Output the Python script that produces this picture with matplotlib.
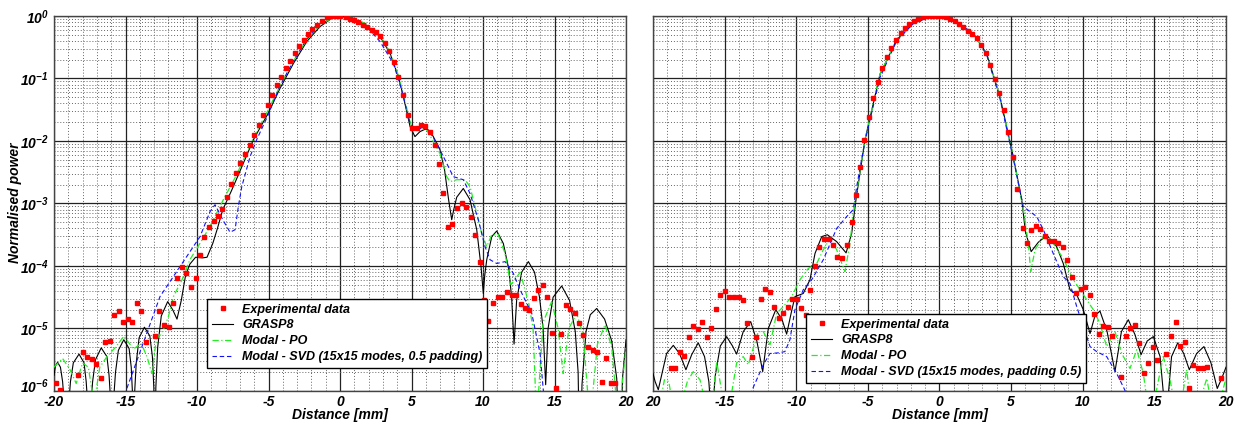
import numpy as np
import matplotlib
matplotlib.use('Agg')
import matplotlib.pyplot as plt
from matplotlib.ticker import LogLocator, NullFormatter
from matplotlib.transforms import ScaledTranslation

plt.rcParams['font.family'] = ['Liberation Sans', 'DejaVu Sans']
plt.rcParams['font.weight'] = 'bold'
plt.rcParams['font.style'] = 'italic'
plt.rcParams['mathtext.fontset'] = 'custom'
plt.rcParams['mathtext.rm'] = 'Liberation Sans:bold:italic'
plt.rcParams['mathtext.it'] = 'Liberation Sans:bold:italic'
plt.rcParams['mathtext.bf'] = 'Liberation Sans:bold:italic'

# values: [distance mm, log10(normalised power)]
left_exp = np.array([
    [-19.88, -5.87], [-19.58, -5.98], [-18.32, -5.75], [-18.00, -5.38], [-17.69, -5.46],
    [-17.37, -5.49], [-17.04, -5.57], [-16.74, -5.79], [-16.41, -5.21], [-16.11, -5.20],
    [-15.78, -4.79], [-15.48, -4.72], [-15.15, -4.89], [-14.83, -4.85], [-14.52, -4.89],
    [-14.22, -4.60], [-13.92, -4.72], [-13.59, -5.21], [-12.96, -5.12], [-12.64, -4.72],
    [-12.33, -4.95], [-11.98, -4.98], [-11.70, -4.59], [-11.38, -4.20], [-11.05, -4.02],
    [-10.75, -4.12], [-10.42, -4.33], [-10.09, -4.20], [-9.79, -3.83], [-9.49, -3.53],
    [-9.16, -3.38], [-8.83, -3.28], [-8.51, -3.20], [-8.23, -3.09], [-7.90, -2.89],
    [-7.60, -2.69], [-7.27, -2.52], [-6.97, -2.36], [-6.64, -2.21], [-6.32, -2.06],
    [-6.01, -1.91], [-5.66, -1.75], [-5.36, -1.58], [-5.06, -1.42], [-4.73, -1.26],
    [-4.43, -1.11], [-4.10, -0.97], [-3.80, -0.84], [-3.50, -0.715], [-3.17, -0.60],
    [-2.84, -0.48], [-2.52, -0.384], [-2.21, -0.293], [-1.93, -0.208], [-1.61, -0.144],
    [-1.28, -0.075], [-0.93, -0.021], [-0.62, -0.005], [-0.31, 0.0], [0.0, 0.0],
    [0.40, -0.02], [0.70, -0.043], [0.98, -0.064], [1.28, -0.10], [1.59, -0.14],
    [1.91, -0.17], [2.21, -0.22], [2.52, -0.26], [2.82, -0.32], [3.15, -0.43],
    [3.45, -0.555], [3.75, -0.74], [4.08, -0.97], [4.40, -1.27], [4.73, -1.58],
    [5.06, -1.79], [5.36, -1.80], [5.66, -1.745], [5.97, -1.755], [6.27, -1.86],
    [6.62, -2.06], [6.95, -2.37], [7.23, -2.84], [7.55, -3.37], [7.85, -3.33],
    [8.18, -3.08], [8.51, -3.00], [8.81, -3.06], [9.14, -3.22], [9.46, -3.51],
    [9.76, -3.93], [10.08, -4.54], [10.37, -4.88], [10.72, -4.60], [11.05, -4.50],
    [11.35, -4.50], [11.66, -4.41], [12.01, -4.46], [12.31, -4.46], [12.64, -4.61],
    [12.94, -4.67], [13.24, -4.71], [13.55, -4.51], [13.87, -4.38], [14.20, -4.31],
    [14.50, -4.49], [14.80, -5.07], [15.13, -5.95], [15.45, -5.09], [15.78, -4.63],
    [16.11, -4.69], [16.41, -4.76], [16.71, -4.92], [17.01, -5.10], [17.32, -5.29],
    [17.67, -5.35], [17.97, -5.38], [18.30, -5.86], [18.60, -5.48], [18.95, -5.88],
    [19.25, -5.88],
])

left_grasp = np.array([
    [-20.00, -5.75], [-19.90, -5.60], [-19.75, -5.54], [-19.55, -5.62], [-19.40, -5.85],
    [-19.25, -6.3], [-19.15, -7.5], [-19.00, -6.3], [-18.85, -5.85], [-18.65, -5.55],
    [-18.25, -5.41], [-17.90, -5.55], [-17.75, -5.85], [-17.62, -6.3], [-17.55, -7.5],
    [-17.45, -6.3], [-17.30, -5.85], [-17.10, -5.50], [-16.70, -5.31], [-16.30, -5.45],
    [-16.15, -5.75], [-16.03, -6.2], [-15.95, -7.5], [-15.85, -6.2], [-15.70, -5.70],
    [-15.50, -5.35], [-15.12, -5.18], [-14.75, -5.32], [-14.60, -5.62], [-14.50, -6.1],
    [-14.45, -7.5], [-14.38, -6.1], [-14.25, -5.55], [-14.05, -5.15], [-13.68, -4.98],
    [-13.30, -5.12], [-13.12, -5.45], [-13.02, -5.95], [-12.95, -7.5], [-12.88, -5.95],
    [-12.75, -5.30], [-12.50, -4.80], [-12.05, -4.57], [-11.70, -4.70], [-11.40, -4.85],
    [-11.10, -4.55], [-10.80, -4.15], [-10.50, -3.97], [-10.10, -3.86], [-9.60, -3.87],
    [-9.30, -3.86], [-8.90, -3.64], [-8.60, -3.42], [-8.20, -3.10], [-7.60, -2.80],
    [-7.20, -2.59], [-6.60, -2.27], [-6.06, -1.98], [-5.08, -1.58], [-4.20, -1.16],
    [-3.26, -0.76], [-2.33, -0.41], [-1.40, -0.17], [-0.47, -0.02], [0.00, 0.00],
    [0.93, -0.04], [1.86, -0.15], [2.80, -0.33], [3.50, -0.60], [4.08, -0.97],
    [4.43, -1.29], [4.90, -1.77], [5.24, -1.93], [5.59, -1.85], [6.06, -1.80],
    [6.50, -1.92], [6.99, -2.14], [7.30, -2.45], [7.60, -2.95], [7.81, -3.26],
    [7.95, -3.10], [8.16, -2.90], [8.62, -2.76], [9.09, -2.94], [9.56, -3.42],
    [9.86, -4.01], [10.02, -4.44], [10.12, -4.15], [10.26, -3.90], [10.61, -3.53],
    [10.96, -3.44], [11.42, -3.64], [11.80, -4.05], [12.00, -4.50], [12.17, -5.25],
    [12.35, -4.55], [12.70, -4.10], [13.17, -3.93], [13.60, -4.10], [13.95, -4.50],
    [14.20, -5.00], [14.38, -5.90], [14.55, -5.00], [14.90, -4.50], [15.50, -4.32],
    [16.05, -4.55], [16.45, -5.05], [16.65, -5.70], [16.78, -7.5], [16.92, -5.90],
    [17.20, -5.05], [17.50, -4.78], [17.95, -4.68], [18.50, -4.85], [19.00, -5.20],
    [19.35, -5.80], [19.58, -7.5], [19.75, -5.80], [20.00, -5.18],
])

left_po = np.array([
    [-20.00, -5.62], [-19.40, -5.48], [-18.90, -5.65], [-18.45, -5.88], [-18.00, -5.55],
    [-17.60, -5.62], [-17.20, -6.2], [-16.80, -5.62], [-16.30, -5.45], [-15.70, -5.30],
    [-15.10, -5.12], [-14.70, -5.25], [-14.45, -5.33], [-13.90, -5.24], [-13.50, -5.45],
    [-13.15, -5.72], [-12.85, -5.18], [-12.35, -5.02], [-12.00, -4.81], [-11.65, -4.49],
    [-11.05, -4.22], [-10.50, -3.90], [-9.80, -3.64], [-9.10, -3.37], [-8.16, -2.94],
    [-7.23, -2.54], [-6.06, -1.95], [-5.06, -1.52], [-4.20, -1.12], [-3.26, -0.72],
    [-2.33, -0.38], [-1.40, -0.15], [-0.47, -0.02], [0.00, 0.00], [0.93, -0.03],
    [1.86, -0.13], [2.80, -0.31], [3.50, -0.58], [4.08, -0.95], [4.43, -1.25],
    [4.90, -1.70], [5.13, -1.82], [5.60, -1.80], [6.06, -1.82], [6.99, -2.20],
    [7.46, -2.57], [7.69, -2.65], [8.16, -2.62], [8.74, -2.62], [9.09, -2.73],
    [9.56, -3.16], [9.91, -3.48], [10.26, -3.69], [10.61, -3.50], [11.07, -3.50],
    [11.54, -3.80], [11.95, -4.30], [12.60, -4.10], [13.20, -4.60], [13.50, -5.00],
    [13.75, -6.5], [14.20, -4.90], [14.80, -4.57], [15.25, -5.00], [15.60, -5.72],
    [16.00, -5.00], [16.55, -4.76], [17.00, -5.10], [17.48, -6.5], [18.00, -5.25],
    [18.53, -4.94], [19.00, -5.30], [19.46, -6.5], [20.00, -5.30],
])

left_svd = np.array([
    [-15.10, -6.3], [-14.97, -6.00], [-12.59, -4.49], [-11.19, -4.01], [-9.79, -3.53],
    [-9.09, -3.13], [-8.74, -3.02], [-8.20, -3.26], [-7.69, -3.46], [-7.34, -3.42],
    [-7.11, -3.05], [-6.87, -2.73], [-6.29, -2.25], [-5.83, -1.98], [-5.08, -1.61],
    [-4.20, -1.12], [-3.26, -0.72], [-2.33, -0.37], [-1.40, -0.14], [-0.47, -0.01],
    [0.00, 0.00], [0.93, -0.05], [1.86, -0.17], [2.80, -0.41], [3.73, -0.76],
    [4.31, -1.18], [4.90, -1.72], [5.20, -1.80], [5.60, -1.80], [6.20, -1.82],
    [6.88, -2.09], [7.92, -2.57], [8.62, -2.62], [9.09, -2.84], [9.67, -3.26],
    [10.14, -3.69], [10.49, -3.90], [10.96, -3.96], [11.54, -3.93], [12.12, -4.12],
    [12.59, -4.38], [13.41, -4.76], [13.99, -5.40], [14.22, -6.00], [14.35, -6.5],
])

right_exp = np.array([
    [-18.77, -5.63], [-18.46, -5.63], [-18.14, -5.38], [-17.84, -5.44], [-17.51, -5.13],
    [-17.19, -4.96], [-16.88, -5.01], [-16.56, -4.89], [-16.23, -5.14], [-15.93, -5.00],
    [-15.60, -4.69], [-15.32, -4.47], [-14.97, -4.40], [-14.67, -4.49], [-14.35, -4.49],
    [-14.02, -4.49], [-13.70, -4.54], [-13.42, -4.91], [-13.09, -5.46], [-12.79, -5.14],
    [-12.46, -4.53], [-12.16, -4.37], [-11.83, -4.41], [-11.53, -4.66], [-11.20, -4.84],
    [-10.90, -4.76], [-10.60, -4.65], [-10.28, -4.53], [-9.97, -4.53], [-9.67, -4.68],
    [-9.34, -4.78], [-9.02, -4.39], [-8.69, -4.00], [-8.39, -3.70], [-8.06, -3.57],
    [-7.73, -3.57], [-7.41, -3.67], [-7.13, -3.85], [-6.81, -3.87], [-6.43, -3.66],
    [-6.13, -3.29], [-5.85, -2.864], [-5.55, -2.411], [-5.25, -1.984], [-4.92, -1.621],
    [-4.62, -1.317], [-4.32, -1.051], [-3.99, -0.837], [-3.69, -0.661], [-3.36, -0.507],
    [-3.04, -0.384], [-2.71, -0.277], [-2.41, -0.197], [-2.11, -0.133], [-1.78, -0.08],
    [-1.48, -0.048], [-1.13, -0.02], [-0.85, 0.0], [-0.50, 0.0], [-0.20, 0.0],
    [0.15, 0.0], [0.43, -0.02], [0.73, -0.048], [1.06, -0.085], [1.36, -0.128],
    [1.66, -0.181], [1.97, -0.235], [2.29, -0.293], [2.60, -0.357], [2.90, -0.464],
    [3.22, -0.597], [3.53, -0.784], [3.87, -1.008], [4.18, -1.227], [4.50, -1.504],
    [4.81, -1.851], [5.11, -2.251], [5.43, -2.773], [5.81, -3.40], [6.09, -3.63],
    [6.39, -3.42], [6.71, -3.36], [7.02, -3.41], [7.34, -3.52], [7.64, -3.60],
    [7.99, -3.60], [8.29, -3.64], [8.60, -3.70], [8.92, -3.90], [9.23, -4.17],
    [9.53, -4.43], [9.86, -4.37], [10.18, -4.34], [10.48, -4.46], [10.79, -4.77],
    [11.11, -5.09], [11.41, -4.96], [11.74, -4.98], [12.04, -5.12], [12.67, -5.78],
    [13.00, -5.12], [13.30, -5.00], [13.63, -4.95], [13.93, -5.24], [14.25, -5.72],
    [14.58, -5.55], [14.88, -5.30], [15.21, -5.50], [15.81, -5.41], [16.14, -5.12],
    [16.49, -4.90], [16.79, -5.28], [17.12, -5.21], [17.42, -5.96], [17.72, -5.58],
    [18.07, -5.64], [18.37, -5.64], [18.67, -5.62], [19.63, -5.79],
])

right_grasp = np.array([
    [-20.00, -5.72], [-19.85, -5.85], [-19.63, -5.98], [-19.40, -5.75], [-19.05, -5.40],
    [-18.58, -5.27], [-18.15, -5.40], [-17.70, -5.66], [-17.30, -5.42], [-16.84, -5.23],
    [-16.40, -5.45], [-16.10, -5.85], [-15.90, -6.5], [-15.65, -5.75], [-15.30, -5.28],
    [-14.86, -5.13], [-14.45, -5.28], [-14.16, -5.41], [-13.70, -5.05], [-13.18, -4.89],
    [-12.75, -5.20], [-12.34, -5.69], [-11.95, -5.00], [-11.43, -4.70], [-11.00, -4.85],
    [-10.67, -5.09], [-10.35, -4.75], [-10.09, -4.49], [-9.51, -4.44], [-9.04, -4.22],
    [-8.69, -3.80], [-8.22, -3.53], [-7.83, -3.50], [-7.18, -3.61], [-6.52, -3.79],
    [-6.13, -3.48], [-5.83, -2.94], [-5.20, -1.98], [-4.15, -0.93], [-2.99, -0.38],
    [-1.83, -0.12], [-0.66, -0.01], [0.00, 0.00], [0.96, -0.06], [2.36, -0.28],
    [3.29, -0.60], [4.22, -1.29], [5.15, -2.25], [5.74, -2.94], [6.00, -3.45],
    [6.40, -3.77], [6.90, -3.62], [7.50, -3.51], [8.18, -3.69], [8.64, -3.96],
    [9.11, -4.38], [9.58, -4.46], [10.04, -4.70], [10.51, -5.08], [10.85, -4.80],
    [11.20, -4.72], [11.70, -5.05], [12.25, -5.69], [12.70, -5.05], [13.18, -4.86],
    [13.65, -5.10], [14.07, -5.42], [14.50, -5.20], [14.93, -5.13], [15.40, -5.45],
    [15.81, -6.5], [16.20, -5.45], [16.63, -5.23], [17.05, -5.40], [17.44, -5.66],
    [17.95, -5.40], [18.46, -5.29], [18.95, -5.55], [19.39, -5.96], [19.70, -5.80],
    [20.00, -5.62],
])

right_po = np.array([
    [-19.60, -6.3], [-19.20, -5.82], [-18.90, -5.85], [-18.40, -6.5], [-17.60, -5.85],
    [-17.19, -5.69], [-16.72, -5.82], [-16.00, -6.5], [-15.55, -5.53], [-14.85, -6.5],
    [-14.16, -5.55], [-13.70, -5.45], [-13.35, -5.58], [-12.65, -5.05], [-12.30, -5.05],
    [-11.83, -5.26], [-11.37, -4.76], [-10.90, -4.65], [-10.32, -4.49], [-9.74, -4.22],
    [-9.16, -4.04], [-8.57, -3.96], [-8.11, -3.74], [-7.64, -3.56], [-7.18, -3.74],
    [-6.60, -4.09], [-6.25, -3.64], [-6.02, -3.16], [-5.20, -1.98], [-4.15, -0.93],
    [-2.99, -0.38], [-1.83, -0.12], [-0.66, -0.01], [0.00, 0.00], [0.96, -0.06],
    [2.36, -0.28], [3.29, -0.60], [4.22, -1.29], [5.15, -2.25], [5.90, -3.16],
    [6.20, -3.64], [6.37, -4.09], [6.67, -3.74], [7.25, -3.53], [7.71, -3.56],
    [8.64, -3.88], [9.34, -4.22], [10.28, -4.54], [10.74, -4.70], [11.20, -4.92],
    [11.67, -5.29], [12.25, -5.05], [12.72, -5.40], [13.30, -5.64], [13.77, -5.34],
    [14.23, -5.72], [14.70, -6.5], [15.62, -5.45], [16.09, -5.82], [16.67, -6.5],
    [17.25, -5.66], [17.72, -6.5], [18.66, -5.80], [19.20, -6.5], [19.97, -5.82],
])

right_svd = np.array([
    [-13.20, -6.3], [-13.11, -6.00], [-12.30, -5.58], [-11.83, -5.40], [-11.25, -5.39],
    [-10.79, -5.37], [-10.44, -5.18], [-10.09, -4.70], [-9.51, -4.38], [-8.92, -4.22],
    [-8.11, -3.90], [-7.18, -3.40], [-6.48, -3.21], [-6.02, -3.10], [-5.78, -2.73],
    [-5.20, -2.00], [-4.15, -0.98], [-2.99, -0.40], [-1.83, -0.12], [-0.66, -0.01],
    [0.00, 0.00], [0.96, -0.064], [2.36, -0.28], [3.29, -0.62], [4.22, -1.32],
    [5.15, -2.28], [5.85, -3.05], [6.79, -3.21], [7.25, -3.42], [7.94, -3.80],
    [8.64, -4.17], [9.11, -4.28], [9.58, -4.65], [10.04, -4.97], [10.51, -5.29],
    [10.97, -5.37], [11.67, -5.45], [12.37, -5.72], [12.95, -5.99], [13.10, -6.3],
])

x_ticks = [-20, -15, -10, -5, 0, 5, 10, 15, 20]
left_xlabels = ['-20', '-15', '-10', '-5', '0', '5', '10', '15', '20']
right_xlabels = ['20', '-15', '-10', '-5', '0', '5', '10', '15', '20']
y_ticks = [1e-6, 1e-5, 1e-4, 1e-3, 1e-2, 1e-1, 1e0]
y_labels = ['$10^{-6}$', '$10^{-5}$', '$10^{-4}$', '$10^{-3}$', '$10^{-2}$', '$10^{-1}$', '$10^{0}$']

labels = ['Experimental data', 'GRASP8', 'Modal - PO']
left_svd_label = 'Modal - SVD (15x15 modes, 0.5 padding)'
right_svd_label = 'Modal - SVD (15x15 modes, padding 0.5)'

fig = plt.figure(figsize=(12.36, 4.23), dpi=100)
ax1 = fig.add_axes([0.0437, 0.0757, 0.4628, 0.8865])
ax2 = fig.add_axes([0.5283, 0.0757, 0.4636, 0.8865])


def draw_panel(ax, exp, grasp, po, svd, svd_label, xlabels, legend_pos):
    ax.plot(grasp[:, 0], 10 ** grasp[:, 1], color='black', lw=0.8, label=labels[1], zorder=3)
    ax.plot(po[:, 0], 10 ** po[:, 1], color='#22ee22', lw=0.9, ls=(0, (5, 2, 1, 2)),
            label=labels[2], zorder=3)
    ax.plot(svd[:, 0], 10 ** svd[:, 1], color='#1010ff', lw=0.8, ls=(0, (4, 2.5)),
            label=svd_label, zorder=3)
    ax.plot(exp[:, 0], 10 ** exp[:, 1], ls='none', marker='s', ms=3.5, color='red',
            mec='red', label=labels[0], zorder=4)

    ax.set_yscale('log')
    ax.set_xlim(-20, 20)
    ax.set_ylim(1e-6, 1)
    ax.set_xticks(x_ticks)
    ax.set_xticklabels(xlabels)
    ax.set_xticks(np.arange(-20, 21, 1), minor=True)
    ax.set_yticks(y_ticks)
    ax.yaxis.set_minor_locator(LogLocator(base=10, subs=np.arange(2, 10)))
    ax.yaxis.set_minor_formatter(NullFormatter())
    ax.grid(which='major', color='#222222', lw=0.9, ls='-')
    ax.grid(which='minor', color='#666666', lw=0.7, ls=(0, (1, 2)))
    ax.set_axisbelow(True)
    ax.tick_params(which='both', length=0, labelsize=10)
    ax.tick_params(axis='x', pad=3)
    ax.tick_params(axis='y', pad=4)
    for sp in ax.spines.values():
        sp.set_color('#444444')
        sp.set_linewidth(1.0)

    handles, labs = ax.get_legend_handles_labels()
    order = [3, 0, 1, 2]
    leg = ax.legend([handles[i] for i in order], [labs[i] for i in order],
                    loc='lower left', bbox_to_anchor=legend_pos, fontsize=9,
                    frameon=True, fancybox=False, edgecolor='black', framealpha=1,
                    numpoints=1, handlelength=1.7, handletextpad=0.7,
                    labelspacing=0.3, borderpad=0.4, borderaxespad=0)
    leg.get_frame().set_linewidth(1.0)


draw_panel(ax1, left_exp, left_grasp, left_po, left_svd, left_svd_label,
           left_xlabels, (0.2675, 0.0613))
ax1.set_yticklabels(y_labels)
# lift the bottom decade label a little so it clears the "-20" below it
low = ax1.get_yticklabels()[0]
low.set_transform(low.get_transform() + ScaledTranslation(0, 4 / 72, fig.dpi_scale_trans))

draw_panel(ax2, right_exp, right_grasp, right_po, right_svd, right_svd_label,
           right_xlabels, (0.267, 0.0213))
ax2.tick_params(labelleft=False)

fig.text(340 / 1236, 1 - 415 / 423, 'Distance [mm]', ha='center', va='center', fontsize=10)
fig.text(940 / 1236, 1 - 415 / 423, 'Distance [mm]', ha='center', va='center', fontsize=10)
fig.text(15 / 1236, 1 - 203 / 423, 'Normalised power', ha='center', va='center',
         rotation=90, fontsize=10)

fig.savefig('out.png', dpi=100, facecolor='white')
